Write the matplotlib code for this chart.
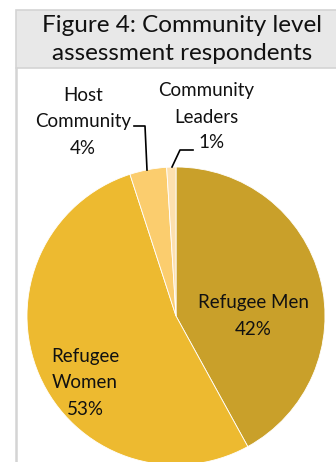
import matplotlib.pyplot as plt
from matplotlib.patches import Rectangle

# Respondent groups and their shares (%)
groups = ["Refugee Men", "Refugee Women", "Host Community", "Community Leaders"]
shares = [42, 53, 4, 1]
colors = ["#C9A02A", "#EDBA30", "#FBCD6E", "#FDE0AE"]

W, H = 336, 462
fig = plt.figure(figsize=(W / 100, H / 100), dpi=100)
ax = fig.add_axes([0, 0, 1, 1])

font = "Lato"

# Title box and panel border
ax.add_patch(Rectangle((16, H - 68), 330, 58, facecolor="#E8E8E8",
                       edgecolor="#D4D4D4", linewidth=1.2, zorder=1))
ax.plot([16, 16], [0, H - 68], color="#D4D4D4", linewidth=1.8, zorder=1)
ax.text(182, H - 25, "Figure 4: Community level", ha="center", va="center",
        fontsize=17.5, family=font, color="#111111")
ax.text(182, H - 53, "assessment respondents", ha="center", va="center",
        fontsize=17.5, family=font, color="#111111")

# Pie
ax.pie(shares, colors=colors, startangle=90, counterclock=False,
       center=(176, H - 316), radius=149, frame=True,
       wedgeprops=dict(edgecolor="white", linewidth=0.6))
ax.set_xlim(0, W)
ax.set_ylim(0, H)
ax.set_aspect("equal")
ax.axis("off")

lbl = dict(ha="center", va="center", fontsize=13.5, family=font,
           color="#111111", linespacing=1.65)
ax.text(253, H - 316, f"Refugee Men\n{shares[0]}%", **lbl)
ax.text(85, H - 383, f"Refugee\nWomen\n{shares[1]}%", **lbl)
ax.text(83, H - 122, f"Host\nCommunity\n{shares[2]}%", **lbl)
ax.text(206, H - 104, "Community\nLeaders", **lbl)
ax.text(212, H - 143, f"{shares[3]}%", **lbl)

# Leader lines
ax.plot([134, 145, 147], [H - 126, H - 126, H - 170], color="black", linewidth=1.2)
ax.plot([193, 180, 172], [H - 150, H - 150, H - 167], color="black", linewidth=1.2)

fig.savefig("out.png", dpi=100, facecolor="white")
